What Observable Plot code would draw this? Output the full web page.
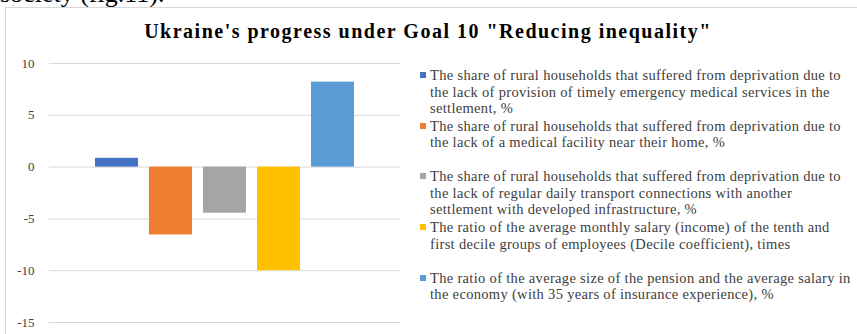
<!DOCTYPE html>
<html>
<head>
<meta charset="utf-8">
<script src="https://cdn.jsdelivr.net/npm/d3@7"></script>
<script src="https://cdn.jsdelivr.net/npm/@observablehq/plot@0.6"></script>
<style>
  html, body { margin: 0; padding: 0; background: #fff; }
  #wrap { position: relative; width: 857px; height: 334px; overflow: hidden; font-family: "Liberation Serif", "Times New Roman", serif; }
  #above { position: absolute; left: 0; top: -21px; font-size: 26px; line-height: 30px; color: #000; white-space: nowrap; }
  #frame { position: absolute; left: 5px; top: 7px; width: 900px; height: 400px; border: 1px solid #d9d9d9; box-sizing: border-box; }
  #title { position: absolute; left: 0; width: 856px; top: 20px; text-align: center; font-weight: bold; font-size: 20px; letter-spacing: 1.5px; color: #000; }
  #chart { position: absolute; left: 0; top: 0; }
  .leg { position: absolute; left: 420px; font-size: 14.5px; letter-spacing: 0.32px; line-height: 16.5px; color: #404040; white-space: pre; }
  .leg .sw { position: absolute; left: 0; top: 5px; width: 6px; height: 6px; }
  .leg .tx { position: absolute; left: 10px; top: 0; }
</style>
</head>
<body>
<div id="wrap">
  <div id="above">society (fig.11).</div>
  <div id="frame"></div>
  <div id="chart"></div>
  <div id="title">Ukraine's progress under Goal 10 "Reducing inequality"</div>
</div>
<script>
const series = [
  "The share of rural households that suffered from deprivation due to\nthe lack of provision of timely emergency medical services in the\nsettlement, %",
  "The share of rural households that suffered from deprivation due to\nthe lack of a medical facility near their home, %",
  "The share of rural households that suffered from deprivation due to\nthe lack of regular daily transport connections with another\nsettlement with developed infrastructure, %",
  "The ratio of the average monthly salary (income) of the tenth and\nfirst decile groups of employees (Decile coefficient), times",
  "The ratio of the average size of the pension and the average salary in\nthe economy (with 35 years of insurance experience), %"
];
const values = [0.85, -6.55, -4.45, -10.0, 8.2];
const colors = ["#4472C4", "#ED7D31", "#A5A5A5", "#FFC000", "#5B9BD5"];
const yTicks = [10, 5, 0, -5, -10, -15];

const data = series.map((s, i) => ({series: s, value: values[i]}));

const chart = Plot.plot({
  width: 420,
  height: 334,
  marginLeft: 49,
  marginRight: 20,
  marginTop: 63,
  marginBottom: 12,
  style: {fontFamily: "'Liberation Serif', 'Times New Roman', serif", fontSize: "13px", color: "#404040", background: "transparent"},
  x: {domain: series, paddingInner: 0.2, paddingOuter: 0.85, axis: null},
  y: {domain: [-15, 10], ticks: yTicks, tickSize: 0, tickPadding: 15, tickFormat: d => d < 0 ? "-" + Math.abs(d) : String(d), label: null},
  color: {domain: series, range: colors},
  marks: [
    Plot.ruleY(yTicks, {stroke: "#d9d9d9", strokeWidth: 1}),
    Plot.barY(data, {x: "series", y: "value", fill: "series"})
  ]
});
document.getElementById("chart").appendChild(chart);

const wrap = document.getElementById("wrap");
series.forEach((s, i) => {
  const d = document.createElement("div");
  d.className = "leg";
  d.style.top = (67 + i * 50.7) + "px";
  const sw = document.createElement("div");
  sw.className = "sw";
  sw.style.background = colors[i];
  const tx = document.createElement("div");
  tx.className = "tx";
  tx.textContent = s;
  d.appendChild(sw);
  d.appendChild(tx);
  wrap.appendChild(d);
});
</script>
</body>
</html>
